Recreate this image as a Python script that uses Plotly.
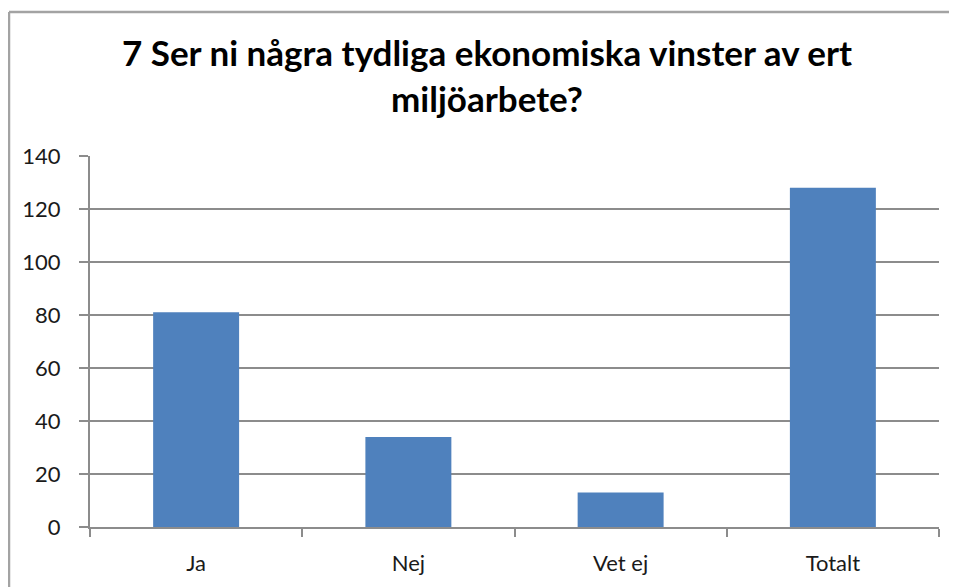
import plotly.graph_objects as go

# data
kategorier = ["Ja", "Nej", "Vet ej", "Totalt"]
antal = [81, 34, 13, 128]
y_ticks = [0, 20, 40, 60, 80, 100, 120, 140]

titel = "7 Ser ni några tydliga ekonomiska vinster av ert<br>miljöarbete?"

grå = "#8C8C8C"
ram = "#A3A3A3"

fig = go.Figure()
fig.add_trace(go.Bar(
    x=kategorier,
    y=antal,
    marker_color="#4F81BD",
    marker_line_width=0,
    width=0.405,
))

# outer chart border (Excel chart area), only top and left edges are in view;
# figure starts 8px into the page
ram_x = (1 - 82) / 849
ram_y = (519 - 4) / 371
fig.add_shape(type="line", xref="paper", yref="paper",
              x0=ram_x, y0=ram_y, x1=1.2, y1=ram_y,
              line=dict(color=ram, width=2.5))
fig.add_shape(type="line", xref="paper", yref="paper",
              x0=ram_x, y0=ram_y, x1=ram_x, y1=-0.5,
              line=dict(color=ram, width=2.5))

# the page has an 8px body margin, so margins are shifted by 8
fig.update_layout(
    width=957,
    height=587,
    margin=dict(l=82, r=26, t=148, b=68),
    paper_bgcolor="white",
    plot_bgcolor="white",
    font=dict(family="Lato, Arial, sans-serif", size=22, color="#1a1a1a"),
    title=dict(
        text=titel,
        font=dict(family="Lato, Arial, sans-serif", size=35, color="#000000", weight="bold"),
        x=(487 - 8) / 957, xref="container", xanchor="center",
        y=1 - 58 / 587, yref="container", yanchor="top",
    ),
    showlegend=False,
)

fig.update_xaxes(
    type="category",
    showline=True,
    linecolor=grå,
    linewidth=2,
    ticks="outside",
    tickson="boundaries",
    ticklen=8,
    tickcolor=grå,
    tickwidth=2,
    showgrid=False,
    ticklabelstandoff=16,
)

fig.update_yaxes(
    range=[0, 140],
    tickvals=y_ticks,
    showline=True,
    linecolor=grå,
    linewidth=2,
    ticks="outside",
    ticklen=9,
    tickcolor=grå,
    tickwidth=2,
    showgrid=True,
    gridcolor=grå,
    gridwidth=1.5,
    zeroline=False,
    ticklabelstandoff=14,
)

fig.write_html("out.html")
